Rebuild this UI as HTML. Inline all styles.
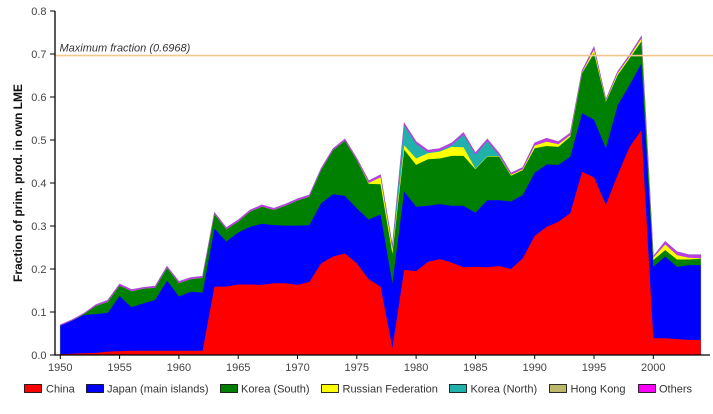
<!DOCTYPE html>
<html><head><meta charset="utf-8">
<style>
html,body{margin:0;padding:0;background:#fff;}
body{width:713px;height:409px;overflow:hidden;}
svg text{font-family:"Liberation Sans",Arial,sans-serif;}
</style></head>
<body>
<svg id="c" width="713" height="409" viewBox="0 0 713 409" xmlns="http://www.w3.org/2000/svg">
<g id="areas"></g>
<line x1="55" y1="55.6" x2="713" y2="55.6" stroke="#F2C88E" stroke-width="1.6"/>
<text x="59.5" y="51.5" font-size="11" font-style="italic" fill="#333">Maximum fraction (0.6968)</text>
<line x1="55" y1="11" x2="55" y2="355.5" stroke="#000" stroke-width="1.3"/>
<line x1="54.5" y1="355" x2="710" y2="355" stroke="#000" stroke-width="1.3"/>
<g stroke="#000" stroke-width="1">
<line x1="50" y1="11" x2="55" y2="11"/>
<line x1="50" y1="54" x2="55" y2="54"/>
<line x1="50" y1="97" x2="55" y2="97"/>
<line x1="50" y1="140" x2="55" y2="140"/>
<line x1="50" y1="183" x2="55" y2="183"/>
<line x1="50" y1="226" x2="55" y2="226"/>
<line x1="50" y1="269" x2="55" y2="269"/>
<line x1="50" y1="312" x2="55" y2="312"/>
<line x1="50" y1="355" x2="55" y2="355"/>
<line x1="60.3" y1="355" x2="60.3" y2="359"/>
<line x1="119.6" y1="355" x2="119.6" y2="359"/>
<line x1="178.9" y1="355" x2="178.9" y2="359"/>
<line x1="238.2" y1="355" x2="238.2" y2="359"/>
<line x1="297.5" y1="355" x2="297.5" y2="359"/>
<line x1="356.8" y1="355" x2="356.8" y2="359"/>
<line x1="416.1" y1="355" x2="416.1" y2="359"/>
<line x1="475.4" y1="355" x2="475.4" y2="359"/>
<line x1="534.7" y1="355" x2="534.7" y2="359"/>
<line x1="594.0" y1="355" x2="594.0" y2="359"/>
<line x1="653.3" y1="355" x2="653.3" y2="359"/>
</g>
<g font-size="11" fill="#444" text-anchor="end">
<text x="46.5" y="15">0.8</text>
<text x="46.5" y="58">0.7</text>
<text x="46.5" y="101">0.6</text>
<text x="46.5" y="144">0.5</text>
<text x="46.5" y="187">0.4</text>
<text x="46.5" y="230">0.3</text>
<text x="46.5" y="273">0.2</text>
<text x="46.5" y="316">0.1</text>
<text x="46.5" y="359">0.0</text>
</g>
<g font-size="11" fill="#444" text-anchor="middle">
<text x="60.3" y="371">1950</text>
<text x="119.6" y="371">1955</text>
<text x="178.9" y="371">1960</text>
<text x="238.2" y="371">1965</text>
<text x="297.5" y="371">1970</text>
<text x="356.8" y="371">1975</text>
<text x="416.1" y="371">1980</text>
<text x="475.4" y="371">1985</text>
<text x="534.7" y="371">1990</text>
<text x="594.0" y="371">1995</text>
<text x="653.3" y="371">2000</text>
</g>
<text transform="translate(22,183) rotate(-90)" font-size="12" font-weight="bold" fill="#111" text-anchor="middle">Fraction of prim. prod. in own LME</text>
<g stroke="#000" stroke-width="0.8">
<rect x="24.5" y="384.5" width="17" height="8" fill="#FF0000"/>
<rect x="86.5" y="384.5" width="17" height="8" fill="#0000FF"/>
<rect x="220.5" y="384.5" width="17" height="8" fill="#008000"/>
<rect x="321.5" y="384.5" width="17" height="8" fill="#FFFF00"/>
<rect x="449.5" y="384.5" width="17" height="8" fill="#20B2AA"/>
<rect x="549.5" y="384.5" width="17" height="8" fill="#BDB76B"/>
<rect x="638.5" y="384.5" width="17" height="8" fill="#FF00FF"/>
</g>
<g font-size="11" fill="#333">
<text x="46" y="392.5">China</text>
<text x="107" y="392.5">Japan (main islands)</text>
<text x="241" y="392.5">Korea (South)</text>
<text x="342.5" y="392.5">Russian Federation</text>
<text x="470.5" y="392.5">Korea (North)</text>
<text x="570.5" y="392.5">Hong Kong</text>
<text x="659" y="392.5">Others</text>
</g>
</svg>
<script>
(function(){
var d={
1950:[.002,.068,.068,.068,.068,.070],
1951:[.003,.080,.080,.080,.080,.082],
1952:[.004,.093,.095,.095,.095,.097],
1953:[.005,.095,.114,.114,.114,.117],
1954:[.008,.098,.123,.123,.123,.127],
1955:[.009,.137,.161,.161,.161,.165],
1956:[.010,.111,.148,.148,.148,.152],
1957:[.010,.120,.154,.154,.154,.157],
1958:[.010,.128,.156,.156,.156,.160],
1959:[.010,.173,.202,.202,.202,.206],
1960:[.010,.136,.167,.167,.167,.171],
1961:[.010,.147,.176,.176,.176,.180],
1962:[.010,.145,.179,.179,.179,.183],
1963:[.159,.294,.327,.327,.327,.331],
1964:[.159,.264,.292,.292,.292,.296],
1965:[.164,.285,.310,.310,.310,.314],
1966:[.164,.298,.333,.333,.333,.337],
1967:[.163,.305,.345,.345,.345,.349],
1968:[.167,.302,.337,.337,.337,.341],
1969:[.167,.301,.347,.347,.347,.351],
1970:[.163,.301,.359,.359,.359,.363],
1971:[.170,.302,.368,.368,.368,.372],
1972:[.213,.353,.430,.430,.430,.434],
1973:[.229,.374,.476,.476,.476,.480],
1974:[.236,.370,.498,.498,.498,.502],
1975:[.213,.341,.453,.453,.453,.457],
1976:[.176,.315,.398,.400,.400,.405],
1977:[.159,.327,.397,.413,.413,.419],
1978:[.016,.167,.235,.245,.247,.252],
1979:[.198,.380,.477,.488,.533,.539],
1980:[.195,.345,.442,.457,.491,.496],
1981:[.217,.347,.455,.469,.471,.476],
1982:[.223,.351,.457,.473,.475,.480],
1983:[.215,.347,.463,.484,.488,.493],
1984:[.204,.347,.463,.483,.512,.517],
1985:[.205,.331,.432,.433,.465,.470],
1986:[.204,.360,.461,.462,.497,.502],
1987:[.207,.360,.461,.462,.464,.469],
1988:[.200,.357,.417,.419,.419,.423],
1989:[.225,.372,.430,.432,.432,.436],
1990:[.277,.424,.481,.487,.487,.493],
1991:[.298,.443,.486,.496,.496,.504],
1992:[.310,.442,.484,.490,.490,.496],
1993:[.330,.461,.508,.511,.511,.516],
1994:[.426,.562,.655,.657,.657,.661],
1995:[.413,.547,.702,.710,.710,.716],
1996:[.349,.481,.589,.591,.591,.594],
1997:[.419,.581,.651,.655,.655,.659],
1998:[.484,.628,.690,.694,.694,.698],
1999:[.523,.678,.729,.736,.736,.741],
2000:[.039,.205,.221,.226,.226,.229],
2001:[.039,.229,.244,.257,.257,.264],
2002:[.037,.205,.222,.232,.232,.240],
2003:[.035,.209,.222,.226,.226,.233],
2004:[.035,.209,.224,.225,.225,.233]
};
function X(y){return 60.3+(y-1950)*11.86;}
function Y(v){return 355-v*430;}
var colors=['#FF0000','#0000FF','#008000','#FFFF00','#20B2AA','#C23AE6'];
var g=document.getElementById('areas');
var ns='http://www.w3.org/2000/svg';
for(var L=5;L>=0;L--){
  var pts=[];
  for(var yr=1950;yr<=2004;yr++){pts.push(X(yr).toFixed(1)+','+Y(d[yr][L]).toFixed(1));}
  pts.push(X(2004).toFixed(1)+',355');
  pts.push(X(1950).toFixed(1)+',355');
  var p=document.createElementNS(ns,'polygon');
  p.setAttribute('points',pts.join(' '));
  p.setAttribute('fill',colors[L]);
  if(L==5){p.setAttribute('stroke','#A050D0');p.setAttribute('stroke-width','0.8');}
  g.appendChild(p);
}
})();
</script>
</body></html>
